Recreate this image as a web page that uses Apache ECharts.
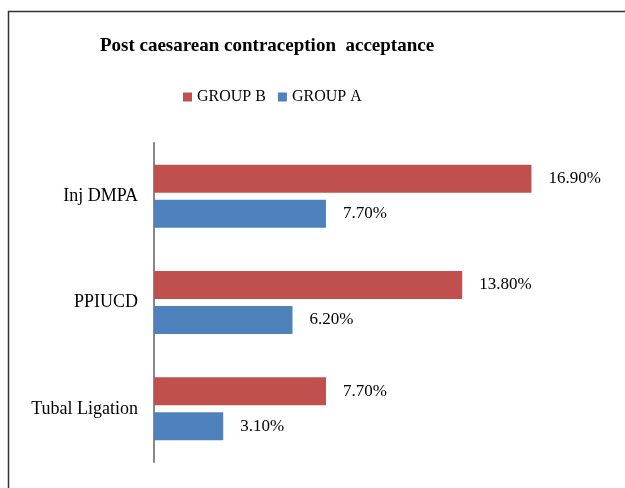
<!DOCTYPE html>
<html>
<head>
<meta charset="utf-8">
<script src="https://cdn.jsdelivr.net/npm/echarts@6/dist/echarts.min.js"></script>
<style>
  html, body { margin: 0; padding: 0; background: #fff; }
  #chart { width: 625px; height: 488px; }
</style>
</head>
<body>
<div id="chart"></div>
<script>
const categories = ['Inj DMPA', 'PPIUCD', 'Tubal Ligation'];
const groupB = [16.9, 13.8, 7.7];
const groupA = [7.7, 6.2, 3.1];

const serif = '"Liberation Serif", "Times New Roman", serif';

const chart = echarts.init(document.getElementById('chart'));

const labelStyle = {
  show: true,
  position: 'right',
  distance: 17,
  fontSize: 17,
  fontFamily: serif,
  color: '#000',
  formatter: (p) => p.value.toFixed(2) + '%'
};

chart.setOption({
  backgroundColor: '#fff',
  animation: false,
  textStyle: { fontFamily: serif },
  title: {
    text: 'Post caesarean contraception  acceptance',
    left: 262,
    top: 32,
    textAlign: 'center',
    textStyle: { fontFamily: serif, fontWeight: 'bold', fontSize: 19, color: '#000' }
  },
  legend: {
    data: ['GROUP B', 'GROUP A'],
    left: 178,
    top: 84,
    icon: 'rect',
    itemWidth: 9,
    itemHeight: 9,
    itemGap: 12,
    textStyle: { fontFamily: serif, fontSize: 16, color: '#000' }
  },
  graphic: [{
    type: 'rect',
    shape: { x: 8.5, y: 11.5, width: 700, height: 600 },
    style: { fill: 'none', stroke: '#333', lineWidth: 1.5 }
  }],
  grid: { left: 154, top: 143, right: 69, bottom: 26 },
  xAxis: {
    type: 'value',
    min: 0,
    max: 18,
    show: false,
    splitLine: { show: false }
  },
  yAxis: {
    type: 'category',
    data: categories,
    inverse: true,
    axisTick: { show: false },
    axisLine: { lineStyle: { color: '#888', width: 2 } },
    axisLabel: { fontSize: 18, fontFamily: serif, color: '#000', margin: 16 }
  },
  series: [
    {
      name: 'GROUP B',
      type: 'bar',
      data: groupB,
      barWidth: 28,
      barGap: '25%',
      itemStyle: { color: '#C0504D' },
      label: labelStyle
    },
    {
      name: 'GROUP A',
      type: 'bar',
      data: groupA,
      barWidth: 28,
      barGap: '25%',
      itemStyle: { color: '#4F81BD' },
      label: labelStyle
    }
  ]
});
</script>
</body>
</html>
